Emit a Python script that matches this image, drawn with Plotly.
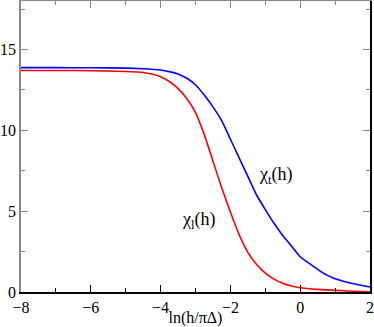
import plotly.graph_objects as go

# ln(h/pi*Delta) grid
x_l = [-8, -7, -6, -5, -4.5, -4.25, -4, -3.75, -3.5, -3.25, -3, -2.75, -2.5, -2.25,
       -2, -1.75, -1.5, -1.25, -1, -0.75, -0.5, -0.25, 0, 0.5, 1, 1.5, 2]
chi_l = [13.70, 13.70, 13.69, 13.64, 13.58, 13.48, 13.32, 13.02, 12.58, 11.97, 11.10,
         9.75, 8.10, 6.45, 4.95, 3.55, 2.45, 1.70, 1.17, 0.80, 0.54, 0.37, 0.26,
         0.16, 0.10, 0.05, 0.02]

x_t = [-8, -7, -6, -5, -4.5, -4, -3.75, -3.5, -3.25, -3, -2.75, -2.5, -2.25, -2,
       -1.75, -1.5, -1.25, -1, -0.75, -0.5, -0.25, 0, 0.25, 0.5, 0.75, 1, 1.5, 2]
chi_t = [13.88, 13.88, 13.87, 13.85, 13.81, 13.73, 13.63, 13.48, 13.22, 12.82, 12.18,
         11.45, 10.60, 9.45, 8.30, 7.15, 6.00, 5.10, 4.25, 3.50, 2.85, 2.18, 1.78,
         1.40, 1.06, 0.82, 0.52, 0.31]

x_ticks = [-8, -6, -4, -2, 0, 2]
y_ticks = [0, 5, 10, 15]

serif = "Liberation Serif, Times New Roman, serif"
font = dict(family=serif, size=16, color="black")
gray = "#888888"

fig = go.Figure()
fig.add_trace(go.Scatter(x=x_l, y=chi_l, mode="lines",
                         line=dict(color="#ff0000", width=1.6, shape="spline", smoothing=0.5)))
fig.add_trace(go.Scatter(x=x_t, y=chi_t, mode="lines",
                         line=dict(color="#0000ff", width=1.6, shape="spline", smoothing=0.5)))
# empty trace so the top/right axes get drawn
fig.add_trace(go.Scatter(x=[None], y=[None], xaxis="x2", yaxis="y2", showlegend=False))

fig.add_annotation(x=-0.7, y=7.2, text="χ<sub>t</sub>(h)", showarrow=False,
                   font=dict(family=serif, size=18, color="black"))
fig.add_annotation(x=-2.9, y=4.4, text="χ<sub>l</sub>(h)", showarrow=False,
                   font=dict(family=serif, size=18, color="black"))

fig.update_layout(
    width=374, height=327,
    margin=dict(l=21, r=4, t=1, b=35),
    plot_bgcolor="white", paper_bgcolor="white",
    showlegend=False,
    font=font,
    xaxis=dict(range=[-8, 2], tickvals=x_ticks, ticks="inside", ticklen=7,
               tickcolor="black", showline=True, linecolor="black", linewidth=1.5,
               showgrid=False, zeroline=False, tickfont=font, automargin=False,
               minor=dict(dtick=1, ticks="inside", ticklen=4, tickcolor="black"),
               title=dict(text="ln(h/πΔ)", font=dict(family=serif, size=16),
                          standoff=0)),
    yaxis=dict(range=[0, 18], tickvals=y_ticks, ticks="inside", ticklen=7,
               tickcolor=gray, showline=True, linecolor=gray, linewidth=1.5,
               showgrid=False, zeroline=False, tickfont=font, automargin=False,
               ticklabelstandoff=0,
               minor=dict(dtick=2.5, ticks="inside", ticklen=4, tickcolor=gray)),
    xaxis2=dict(range=[-8, 2], overlaying="x", side="top", tickvals=x_ticks,
                ticks="inside", ticklen=7, tickcolor=gray, showline=True,
                linecolor=gray, linewidth=1.5, showgrid=False, zeroline=False,
                showticklabels=False,
                minor=dict(dtick=1, ticks="inside", ticklen=4, tickcolor=gray)),
    yaxis2=dict(range=[0, 18], overlaying="y", side="right", tickvals=y_ticks,
                ticks="inside", ticklen=7, tickcolor=gray, showline=True,
                linecolor="black", linewidth=1.5, showgrid=False, zeroline=False,
                showticklabels=False,
                minor=dict(dtick=2.5, ticks="inside", ticklen=4, tickcolor=gray)),
)

fig.write_html("out.html", config={"displayModeBar": False},
               post_script="document.body.style.margin='0';")
